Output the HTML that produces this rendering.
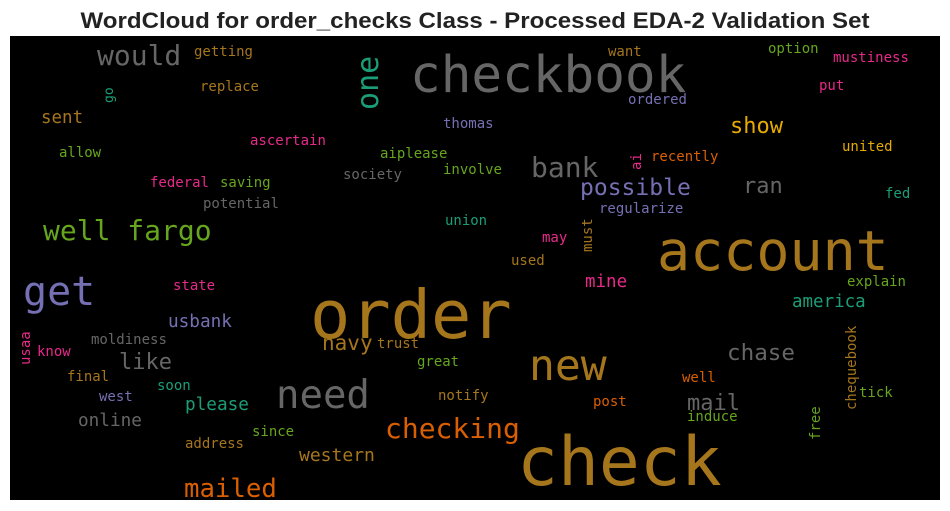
<!DOCTYPE html>
<html><head><meta charset="utf-8"><style>
html,body{margin:0;padding:0;background:#fff;}
svg{display:block;}
text.w{font-family:"DejaVu Sans Mono","Liberation Mono",monospace;}
</style></head><body>
<svg id="chart" width="950" height="511" viewBox="0 0 950 511" xmlns="http://www.w3.org/2000/svg">
<text x="475" y="28" text-anchor="middle" font-family="Liberation Sans, Arial, sans-serif" font-weight="bold" font-size="22" fill="#222" textLength="789" lengthAdjust="spacingAndGlyphs">WordCloud for order_checks Class - Processed EDA-2 Validation Set</text>
<rect x="10" y="36" width="930" height="464" fill="#000"/>
<g id="words"></g>
</svg>
<script>
const words = ["checkbook","account","order","check","would","getting","replace","go","sent","allow","ascertain","federal","saving","potential","well fargo","one","thomas","aiplease","society","involve","union","want","option","mustiness","put","ordered","show","united","bank","ai","recently","possible","ran","fed","regularize","must","may","used","get","state","usbank","usaa","know","moldiness","like","final","soon","west","please","online","since","address","western","mailed","navy","trust","great","need","notify","checking","mine","explain","america","new","chase","well","chequebook","tick","post","mail","induce","free"];
const sizes = [51,55,67,68,28,14,14,13,17.5,14,14,14,14,14,28,30,14,14,14,14,14,14,14,14,14,14,22,14,28,14,14,23,22,14,14,14,14,14,40,14,17.7,14,14,14,22,14,14,14,17.7,17.7,14,14,18,25.7,21,14,14,39,14,28,17.5,14,17.5,43,22.6,14,14,14,14,22,14,14];
const colors = ["#666666","#a6761d","#a6761d","#a6761d","#666666","#a6761d","#a6761d","#1b9e77","#a6761d","#66a61e","#e7298a","#e7298a","#66a61e","#666666","#66a61e","#1b9e77","#7570b3","#66a61e","#666666","#66a61e","#1b9e77","#a6761d","#66a61e","#e7298a","#e7298a","#7570b3","#e6ab02","#e6ab02","#666666","#e7298a","#d95f02","#7570b3","#666666","#1b9e77","#7570b3","#a6761d","#e7298a","#a6761d","#7570b3","#e7298a","#7570b3","#e7298a","#e7298a","#666666","#666666","#a6761d","#1b9e77","#7570b3","#1b9e77","#666666","#66a61e","#a6761d","#a6761d","#d95f02","#a6761d","#a6761d","#66a61e","#666666","#a6761d","#d95f02","#e7298a","#66a61e","#1b9e77","#a6761d","#666666","#d95f02","#a6761d","#66a61e","#d95f02","#666666","#66a61e","#66a61e"];
const posX = [410,657,310,517,97,194,200,113,41,59,250,150,220,203,43,378,443,380,343,443,445,608,768,833,819,628,730,842,531,641,651,580,743,885,599,592,542,511,23,173,168,30,37,91,119,67,157,99,185,78,252,185,299,184,322,377,417,276,438,385,585,847,792,529,727,682,856,859,593,687,687,820];
const posY = [92,270,338,485,65,56,91,103,123,157,145,187,187,208,240,110,128,158,179,174,225,56,53,62,90,104,133,151,177,170,161,195,193,198,213,252,242,265,305,290,327,365,356,344,369,381,390,401,410,426,436,448,461,497,350,348,366,408,400,438,287,286,307,380,360,382,410,397,406,410,421,440];
const vertical = [0,0,0,0,0,0,0,1,0,0,0,0,0,0,0,1,0,0,0,0,0,0,0,0,0,0,0,0,0,1,0,0,0,0,0,1,0,0,0,0,0,1,0,0,0,0,0,0,0,0,0,0,0,0,0,0,0,0,0,0,0,0,0,0,0,0,1,0,0,0,0,1];
const g = document.getElementById('words');
const NS = 'http://www.w3.org/2000/svg';
words.forEach((w,i)=>{
  const t = document.createElementNS(NS,'text');
  t.setAttribute('class','w');
  t.setAttribute('x',posX[i]);
  t.setAttribute('y',posY[i]);
  t.setAttribute('font-size',sizes[i]);
  t.setAttribute('fill',colors[i]);
  t.setAttribute('textLength',(w.length*0.602*sizes[i]).toFixed(1));
  t.setAttribute('lengthAdjust','spacingAndGlyphs');
  if(vertical[i]) t.setAttribute('transform','rotate(-90 '+posX[i]+' '+posY[i]+')');
  
  
  t.textContent = w;
  g.appendChild(t);
});
</script>
</body></html>
